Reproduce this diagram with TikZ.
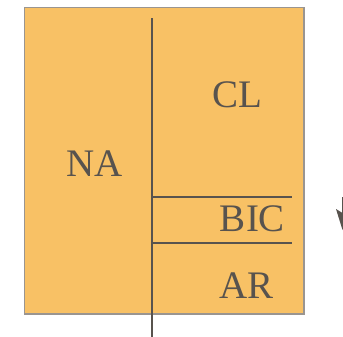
\documentclass[tikz,border=0pt]{standalone}
\usepackage{fontspec}
\setmainfont{Liberation Serif}
\definecolor{boxfill}{HTML}{F8C165}
\definecolor{ink}{HTML}{58534E}
\definecolor{frame}{HTML}{9A9590}
\tikzset{
  lbl/.style={anchor=base, text=ink, font=\fontsize{39}{39}\selectfont, inner sep=0pt},
  divider/.style={draw=ink, line width=2pt},
}
\begin{document}
\begin{tikzpicture}[x=1pt,y=-1pt]
\useasboundingbox (0,0) rectangle (343,337);
\clip (0,0) rectangle (343,337);
\path[fill=boxfill, draw=frame, line width=1.5pt] (24.5,7.5) rectangle (304,314);
\coordinate (vtop) at (152,18.5);
\coordinate (vbot) at (152,340);
\coordinate (h1l) at (152,197);
\coordinate (h1r) at (292,197);
\coordinate (h2l) at (152,243);
\coordinate (h2r) at (292,243);
\draw[divider] (vtop) -- (vbot);
\draw[divider] (h1l) -- (h1r);
\draw[divider] (h2l) -- (h2r);
\node[lbl] (na) at (95,176.5) {NA};
\node[lbl] (cl) at (237.5,107) {CL};
\node[lbl] (bic) at (252.5,231) {BIC};
\node[lbl] (ar) at (246.5,298) {AR};
\coordinate (atop) at (342.5,197);
\coordinate (atip) at (342.5,230);
\draw[draw=ink, line width=2pt] (atop) -- (342.5,214);
\fill[ink] (336,209) -- (342.5,213) -- (349,209) -- (atip) -- cycle;
\end{tikzpicture}
\end{document}
